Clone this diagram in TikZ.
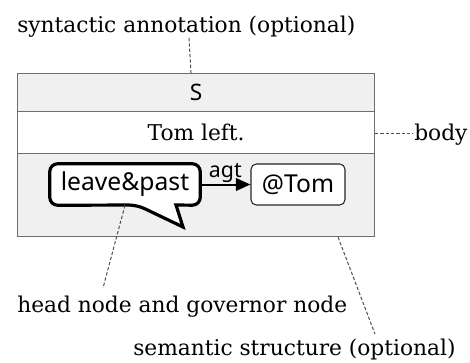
\documentclass[tikz,border=0pt]{standalone}
\usepackage{fontspec}
\setmainfont{DejaVu Serif}
\newfontfamily\labelsans{Noto Sans}
\usetikzlibrary{arrows.meta}
\definecolor{rowgray}{RGB}{240,240,240}
\definecolor{frame}{RGB}{110,110,110}
\definecolor{leader}{RGB}{80,80,80}
\begin{document}
\begin{tikzpicture}[x=0.75pt,y=-0.75pt,
  rowbox/.style={draw=frame, line width=1pt, anchor=north west, inner sep=0pt,
    minimum width=267.75pt},
  note/.style={anchor=base west, inner sep=0pt, font=\fontsize{16.3}{19}\selectfont},
  sanslbl/.style={font=\labelsans\fontsize{18.5}{22}\selectfont},
  leaderline/.style={draw=leader, line width=0.75pt, dash pattern=on 2.5pt off 1.5pt},
  callout/.style={draw=black, line width=2.4pt, fill=white},
  conceptbox/.style={draw=black!85, line width=0.8pt, fill=white, rounded corners=4pt,
    minimum width=70.5pt, minimum height=30.75pt, inner sep=0pt, sanslbl}]
\useasboundingbox (0,0) rectangle (470,362);

% three rows of the sentence frame
\node[rowbox, fill=rowgray, minimum height=28.5pt] (synrow) at (17,73)
  {\labelsans\fontsize{17}{20}\selectfont S};
\node[rowbox, fill=white, minimum height=31.5pt] (bodyrow) at (17,111)
  {\fontsize{16.3}{19}\selectfont Tom left.};
\node[rowbox, fill=rowgray, minimum height=62.25pt] (semrow) at (17,153) {};

% head concept with speech-bubble tail
\node[minimum width=112.5pt, minimum height=30.75pt, inner sep=0pt, sanslbl] (head) at (125,184.5) {};
\path[callout] (176,205) [rounded corners=6pt] -- (head.south east) -- (head.north east)
  -- (head.north west) -- (head.south west) -- (137,205) [sharp corners] -- (183,227) -- cycle;
\node[sanslbl, inner sep=0pt] (headtext) at (head.center) {leave\&past};

% dependent concept and relation
\node[conceptbox] (tom) at (298,184.5) {@Tom};
\draw[line width=1.5pt, -{Triangle[length=11pt,width=9.5pt]}] (head.east) --
  node[above, inner sep=1pt, font=\labelsans\fontsize{16}{18}\selectfont] (agt) {agt} (tom.west);

% callout labels
\node[note] (syn) at (17,32) {syntactic annotation (optional)};
\node[note] (bodylbl) at (414,140) {body};
\node[note] (headlbl) at (17,312) {head node and governor node};
\node[note] (semlbl) at (133,355) {semantic structure (optional)};

\coordinate (synfoot) at (189,38);
\coordinate (syntop) at (191,73);
\coordinate (bodyend) at (413,133);
\coordinate (bodystart) at (375,133);
\coordinate (headfoot) at (103,288);
\coordinate (semtop) at (338,237);
\coordinate (semfoot) at (375,334);

\draw[leaderline] (synfoot) -- (syntop);
\draw[leaderline] (bodystart) -- (bodyend);
\draw[leaderline] (head.south) -- (headfoot);
\draw[leaderline] (semtop) -- (semfoot);
\end{tikzpicture}
\end{document}
